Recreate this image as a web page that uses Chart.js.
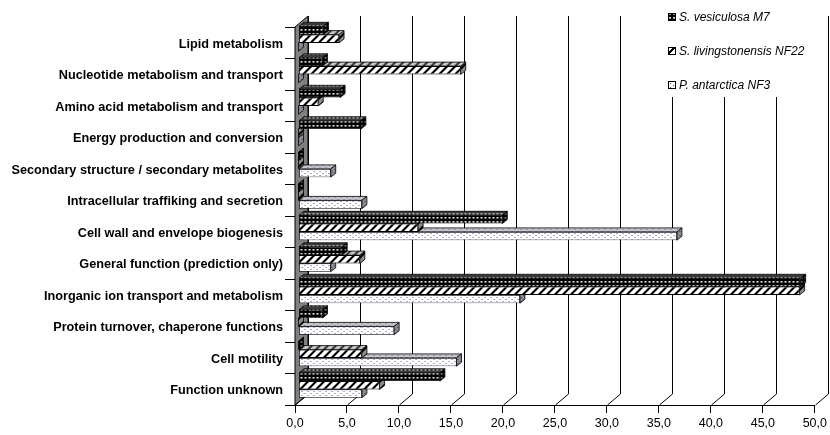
<!DOCTYPE html>
<html>
<head>
<meta charset="utf-8">
<script src="https://cdn.jsdelivr.net/npm/chart.js@4.4.1/dist/chart.umd.min.js"></script>
<style>
  html, body { margin: 0; padding: 0; background: #fff; }
  #wrap { width: 830px; height: 435px; }
</style>
</head>
<body>
<div id="wrap"><canvas id="c" width="830" height="435"></canvas></div>
<script>
const categories = [
  'Lipid metabolism',
  'Nucleotide metabolism and transport',
  'Amino acid metabolism and transport',
  'Energy production and conversion',
  'Secondary structure / secondary metabolites',
  'Intracellular traffiking and secretion',
  'Cell wall and envelope biogenesis',
  'General function (prediction only)',
  'Inorganic ion transport and metabolism',
  'Protein turnover, chaperone functions',
  'Cell motility',
  'Function unknown'
];
const seriesNames = ['S. vesiculosa M7', 'S. livingstonensis NF22', 'P. antarctica NF3'];
const vesiculosa      = [2.4, 2.3, 4.0, 6.0, 0, 0, 19.6, 4.2, 48.3, 2.3, 0, 13.6];
const livingstonensis = [3.9, 15.6, 1.9, 0, 0, 0, 11.5, 5.9, 48.2, 0, 6.1, 7.8];
const antarctica      = [0, 0, 0, 0, 3.1, 6.1, 36.4, 3.1, 21.3, 9.2, 15.2, 6.1];
const xTicks = [0, 5, 10, 15, 20, 25, 30, 35, 40, 45, 50];

// 3D geometry (pixels)
const DEPTH_DX = 13, DEPTH_DY = 11;   // floor/wall depth
const BAR_DX = 5, BAR_DY = 4;         // bar bevel
const BAR_SHIFT_X = 3.5, BAR_SHIFT_Y = -4;

function makePattern(kind) {
  const c = document.createElement('canvas');
  const g = c.getContext('2d');
  if (kind === 0) {
    c.width = 4; c.height = 4;
    g.fillStyle = '#000'; g.fillRect(0, 0, 4, 4);
    g.fillStyle = '#e0e0e0'; g.fillRect(1, 1, 2, 1);
    g.fillStyle = '#888'; g.fillRect(1, 2, 2, 1);
  } else if (kind === 1) {
    c.width = 8; c.height = 8;
    g.fillStyle = '#fff'; g.fillRect(0, 0, 8, 8);
    g.fillStyle = '#000';
    for (let x = 0; x < 8; x++) for (let y = 0; y < 8; y++) {
      if ((x + y) % 8 < 3) g.fillRect(x, y, 1, 1);
    }
  } else {
    c.width = 6; c.height = 4;
    g.fillStyle = '#fff'; g.fillRect(0, 0, 6, 4);
    g.fillStyle = '#4a4ad0';
    g.fillRect(1, 1, 1, 1);
    g.fillRect(4, 3, 1, 1);
  }
  return g.createPattern(c, 'repeat');
}

const patterns = [makePattern(0), makePattern(1), makePattern(2)];

function fmt(v) { return Number(v).toFixed(1).replace('.', ','); }

const threeD = {
  id: 'threeD',
  beforeDatasetsDraw(chart) {
    const ctx = chart.ctx;
    const xs = chart.scales.x;
    const area = chart.chartArea;
    ctx.save();
    ctx.strokeStyle = '#000';
    ctx.lineWidth = 1;
    xs.ticks.forEach(t => {
      const px = Math.round(xs.getPixelForValue(t.value)) + 0.5;
      ctx.beginPath();
      ctx.moveTo(px, area.bottom);
      ctx.lineTo(px + DEPTH_DX, area.bottom - DEPTH_DY);
      ctx.lineTo(px + DEPTH_DX, area.top - DEPTH_DY);
      ctx.stroke();
    });
    ctx.beginPath();
    ctx.moveTo(area.left, area.bottom);
    ctx.lineTo(area.left, area.top);
    ctx.lineTo(area.left + DEPTH_DX, area.top - DEPTH_DY);
    ctx.lineTo(area.left + DEPTH_DX, area.bottom - DEPTH_DY);
    ctx.closePath();
    ctx.fillStyle = '#808080';
    ctx.fill();
    ctx.stroke();
    ctx.restore();

    ctx.save();
    ctx.translate(BAR_SHIFT_X, BAR_SHIFT_Y);
    ctx.lineWidth = 0.8;
    ctx.strokeStyle = '#000';
    for (let d = chart.data.datasets.length - 1; d >= 0; d--) {
      const meta = chart.getDatasetMeta(d);
      meta.data.forEach(el => {
        const p = el.getProps(['x', 'y', 'base', 'height'], true);
        const x0 = p.base, x1 = p.x;
        const y0 = p.y - p.height / 2, y1 = p.y + p.height / 2;
        ctx.beginPath();
        ctx.moveTo(x0, y0);
        ctx.lineTo(x1, y0);
        ctx.lineTo(x1 + BAR_DX, y0 - BAR_DY);
        ctx.lineTo(x0 + BAR_DX, y0 - BAR_DY);
        ctx.closePath();
        ctx.fillStyle = patterns[d];
        ctx.fill();
        ctx.fillStyle = 'rgba(128,128,128,0.45)';
        ctx.fill();
        ctx.stroke();
        ctx.beginPath();
        ctx.moveTo(x1, y0);
        ctx.lineTo(x1 + BAR_DX, y0 - BAR_DY);
        ctx.lineTo(x1 + BAR_DX, y1 - BAR_DY);
        ctx.lineTo(x1, y1);
        ctx.closePath();
        ctx.fillStyle = patterns[d];
        ctx.fill();
        ctx.fillStyle = 'rgba(0,0,0,0.45)';
        ctx.fill();
        ctx.stroke();
      });
    }
  },
  afterDatasetsDraw(chart) {
    chart.ctx.restore();
  },
  afterDraw(chart) {
    const ctx = chart.ctx;
    ctx.save();
    ctx.fillStyle = '#fff';
    ctx.fillRect(645, 0, 178, 97);
    ctx.font = 'italic 12px "Liberation Sans", Arial, sans-serif';
    ctx.textBaseline = 'middle';
    chart.data.datasets.forEach((ds, i) => {
      const cy = 17 + i * 34;
      ctx.fillStyle = patterns[i];
      ctx.fillRect(669, cy - 3, 6, 6);
      ctx.strokeStyle = '#000';
      ctx.lineWidth = 1;
      ctx.strokeRect(668.5, cy - 3.5, 7, 7);
      ctx.fillStyle = '#000';
      ctx.fillText(ds.label, 679, cy + 0.5);
    });
    ctx.restore();
  }
};

new Chart(document.getElementById('c'), {
  type: 'bar',
  data: {
    labels: categories,
    datasets: [
      { label: seriesNames[0], data: vesiculosa },
      { label: seriesNames[1], data: livingstonensis },
      { label: seriesNames[2], data: antarctica }
    ].map((d, i) => Object.assign(d, {
      backgroundColor: patterns[i],
      borderColor: '#000',
      borderWidth: 0.8,
      borderSkipped: false,
      categoryPercentage: 0.79,
      barPercentage: 1.0
    }))
  },
  options: {
    indexAxis: 'y',
    responsive: false,
    animation: false,
    devicePixelRatio: 1,
    layout: { padding: { left: 0, right: 15, top: 27, bottom: 0 } },
    plugins: { legend: { display: false }, tooltip: { enabled: false } },
    scales: {
      x: {
        min: 0, max: 50,
        afterBuildTicks(scale) { scale.ticks = xTicks.map(v => ({ value: v })); },
        afterFit(scale) { scale.height = 30; },
        grid: { drawOnChartArea: false, drawTicks: true, tickLength: 8, color: '#000', lineWidth: 1 },
        border: { display: true, color: '#000', width: 1 },
        ticks: {
          callback: v => fmt(v),
          color: '#000',
          padding: 3,
          maxRotation: 0,
          font: { family: '"Liberation Sans", Arial, sans-serif', size: 12.5 }
        }
      },
      y: {
        afterFit(scale) { scale.width = 295; },
        grid: { offset: true, drawOnChartArea: false, drawTicks: true, tickLength: 10, color: '#000', lineWidth: 1 },
        border: { display: true, color: '#000', width: 1 },
        ticks: {
          autoSkip: false,
          color: '#000',
          padding: 2,
          labelOffset: 1.5,
          font: { family: '"Liberation Sans", Arial, sans-serif', size: 12.7, weight: 'bold' }
        }
      }
    }
  },
  plugins: [threeD]
});
</script>
</body>
</html>
